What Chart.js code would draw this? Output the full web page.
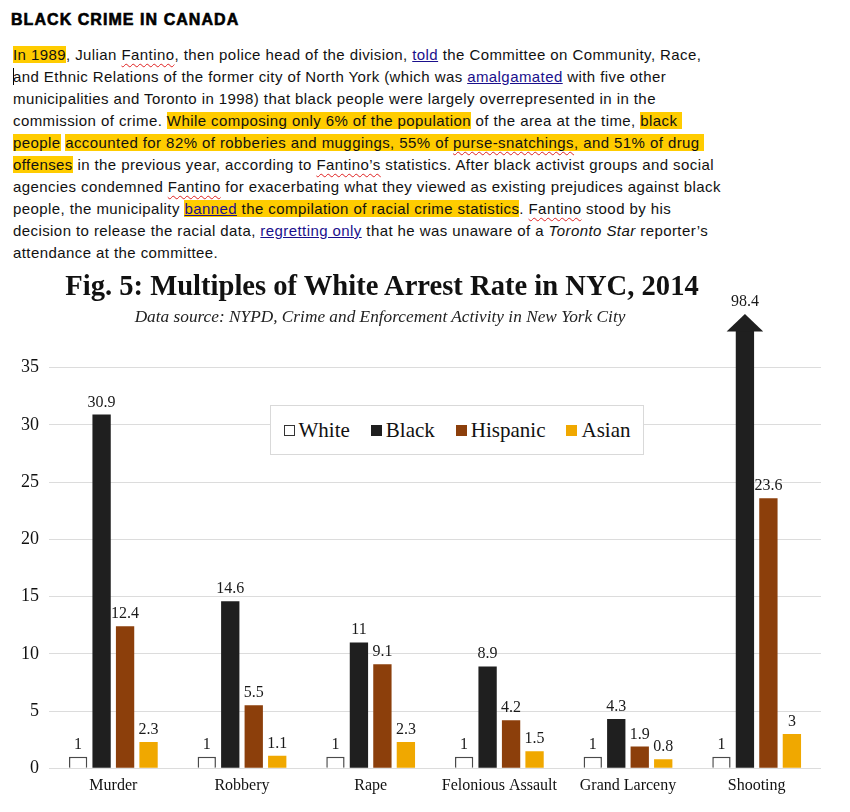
<!DOCTYPE html>
<html>
<head>
<meta charset="utf-8">
<script src="https://cdn.jsdelivr.net/npm/chart.js@4.4.1/dist/chart.umd.min.js"></script>
<style>
    body { margin: 0; background: #fff; width: 850px; height: 812px; position: relative; overflow: hidden; }
    .heading { position: absolute; left: 11px; top: 11px; font: 900 16px "Liberation Sans", Arial, sans-serif; color: #000; letter-spacing: 1.05px; -webkit-text-stroke: 0.6px #000; }
    .article { position: absolute; left: 13px; top: 44px; font: 15px "Liberation Sans", Arial, sans-serif; line-height: 22px; color: #111; white-space: nowrap; letter-spacing: 0.42px; }
    .hl { background: #ffcc00; }
    .lnk { color: #1a0f8c; text-decoration: underline; }
    .sp { text-decoration: underline wavy #e02020; text-decoration-thickness: 1px; text-underline-offset: 3px; }
    .caret { display: inline-block; width: 1px; height: 17px; background: #000; vertical-align: -3px; margin-right: -1px; }
    .title { position: absolute; left: 0; width: 764px; top: 270px; text-align: center; font: bold 28.6px "Liberation Serif", "Times New Roman", serif; color: #111; }
    .subtitle { position: absolute; left: 0; width: 760px; top: 307px; text-align: center; font: italic 17.3px "Liberation Serif", "Times New Roman", serif; color: #222; }
    #chartBox { position: absolute; left: 0; top: 265px; width: 850px; height: 547px; }
    .legend { position: absolute; left: 270px; top: 405px; width: 372px; height: 48px; border: 1px solid #d9d9d9; background: #fff;
              display: flex; align-items: center; justify-content: center; gap: 21px; font: 21px "Liberation Serif", "Times New Roman", serif; color: #111; }
    .legend span.item { display: flex; align-items: center; gap: 4px; }
    .legend i { display: inline-block; width: 11px; height: 11px; box-sizing: border-box; }
</style>
</head>
<body>
<div class="heading">BLACK CRIME IN CANADA</div>
<div class="article">
<span class="hl">In 1989</span>, Julian <span class="sp">Fantino</span>, then police head of the division, <span class="lnk">told</span> the Committee on Community, Race,<br>
<span class="caret"></span>and Ethnic Relations of the former city of North York (which was <span class="lnk">amalgamated</span> with five other<br>
municipalities and Toronto in 1998) that black people were largely overrepresented in in the<br>
commission of crime. <span class="hl">While composing only 6% of the population</span> of the area at the time, <span class="hl">black&nbsp;</span><br>
<span class="hl">people</span> <span class="hl">accounted for 82% of robberies and muggings, 55% of <span class="sp">purse-snatchings</span>, and 51% of drug&nbsp;</span><br>
<span class="hl">offenses</span> in the previous year, according to <span class="sp">Fantino’s</span> statistics. After black activist groups and social<br>
agencies condemned <span class="sp">Fantino</span> for exacerbating what they viewed as existing prejudices against black<br>
people, the municipality <span class="hl"><span class="lnk">banned</span> the compilation of racial crime statistics</span>. <span class="sp">Fantino</span> stood by his<br>
decision to release the racial data, <span class="lnk">regretting only</span> that he was unaware of a <i>Toronto Star</i> reporter’s<br>
attendance at the committee.
</div>

<div id="chartBox"><canvas id="arrestChart" width="850" height="547"></canvas></div>
<div class="title">Fig. 5: Multiples of White Arrest Rate in NYC, 2014</div>
<div class="subtitle">Data source: NYPD, Crime and Enforcement Activity in New York City</div>
<div class="legend" id="legend"></div>

<script>
const categories = ['Murder', 'Robbery', 'Rape', 'Felonious Assault', 'Grand Larceny', 'Shooting'];
const seriesNames = ['White', 'Black', 'Hispanic', 'Asian'];
const whiteVals = [1, 1, 1, 1, 1, 1];
const blackVals = [30.9, 14.6, 11, 8.9, 4.3, 98.4];
const hispanicVals = [12.4, 5.5, 9.1, 4.2, 1.9, 23.6];
const asianVals = [2.3, 1.1, 2.3, 1.5, 0.8, 3];
const yTickMax = 35;
const yAxisTop = 38.2; // bars above this are cut and get an arrow head
const serif = '"Liberation Serif", "Times New Roman", serif';

const fills = ['#ffffff', '#1f1f1f', '#8c3f0b', '#f0a800'];
const edges = ['#4a4a4a', '#1f1f1f', '#8c3f0b', '#f0a800'];

// Zahlen über den Balken + Pfeil für abgeschnittene Balken
const barLabels = {
    id: 'barLabels',
    afterDatasetsDraw(chart) {
        const ctx = chart.ctx;
        const top = chart.chartArea.top;
        ctx.save();
        ctx.font = '16px ' + serif;
        ctx.textAlign = 'center';
        ctx.textBaseline = 'alphabetic';
        chart.data.datasets.forEach((ds, i) => {
            chart.getDatasetMeta(i).data.forEach((bar, j) => {
                const v = ds.data[j];
                let y = bar.y;
                if (v > yAxisTop) {
                    const half = bar.width;
                    ctx.fillStyle = ds.backgroundColor;
                    ctx.beginPath();
                    ctx.moveTo(bar.x - half, top + 0.5);
                    ctx.lineTo(bar.x + half, top + 0.5);
                    ctx.lineTo(bar.x, top - 17);
                    ctx.closePath();
                    ctx.fill();
                    y = top - 17;
                }
                ctx.fillStyle = '#1a1a1a';
                ctx.fillText(String(v), bar.x, y - 8);
            });
        });
        ctx.restore();
    }
};

const valueSets = [whiteVals, blackVals, hispanicVals, asianVals];
const datasets = seriesNames.map((name, i) => ({
    label: name,
    data: valueSets[i],
    backgroundColor: fills[i],
    borderColor: edges[i],
    borderWidth: i === 0 ? 1.5 : 0,
    categoryPercentage: 0.73,
    barPercentage: 0.78
}));

new Chart(document.getElementById('arrestChart'), {
    type: 'bar',
    data: { labels: categories, datasets },
    options: {
        responsive: false,
        animation: false,
        layout: { padding: { top: 66, left: 11, right: 29, bottom: 8.5 } },
        plugins: { legend: { display: false }, tooltip: { enabled: false } },
        scales: {
            x: {
                grid: { display: false, drawTicks: false },
                border: { display: false },
                ticks: { color: '#111', font: { family: serif, size: 16 }, padding: 8, maxRotation: 0 }
            },
            y: {
                min: 0,
                max: yAxisTop,
                afterBuildTicks: axis => { axis.ticks = axis.ticks.filter(t => t.value <= yTickMax); },
                grid: { color: '#dcdcdc', drawTicks: false },
                border: { display: false },
                ticks: { stepSize: 5, color: '#111', font: { family: serif, size: 18 }, padding: 10 }
            }
        }
    },
    plugins: [barLabels]
});

// Legende als HTML im Diagramm
const legend = document.getElementById('legend');
seriesNames.forEach((name, i) => {
    const item = document.createElement('span');
    item.className = 'item';
    item.innerHTML = `<i style="background:${fills[i]}; border:${i === 0 ? '1px solid #333' : 'none'}"></i>${name}`;
    legend.appendChild(item);
});
</script>
</body>
</html>
